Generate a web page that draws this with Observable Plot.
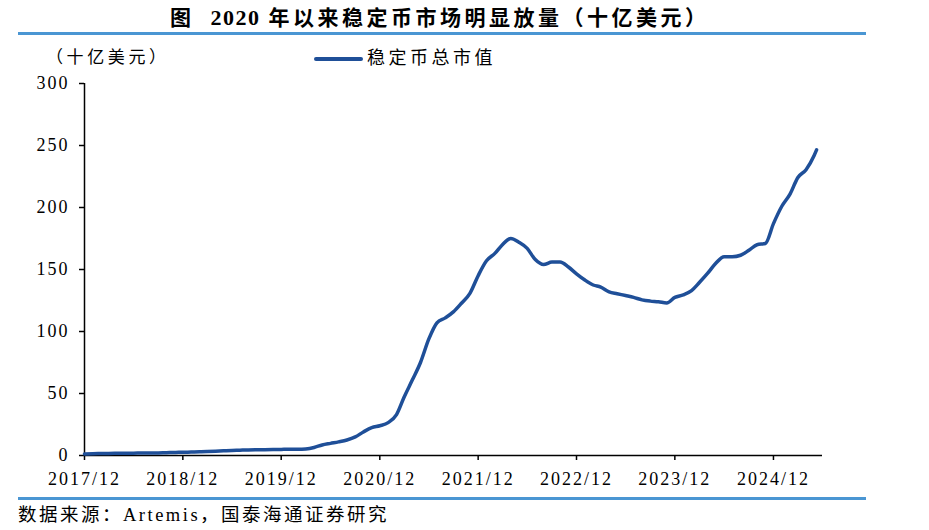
<!DOCTYPE html>
<html>
<head>
<meta charset="utf-8">
<script src="https://cdn.jsdelivr.net/npm/d3@7"></script>
<script src="https://cdn.jsdelivr.net/npm/@observablehq/plot@0.6"></script>
<style>
  html, body { margin: 0; padding: 0; background: #fff; }
  #page { position: relative; width: 929px; height: 530px; overflow: hidden; background: #fff;
          font-family: "Liberation Serif", "DejaVu Serif", "Noto Sans CJK SC", serif; color: #000; }
  .abs { position: absolute; white-space: nowrap; }
  #title { left: 170px; top: 7px; font-size: 21px; line-height: 22px; font-weight: bold; }
  #title .cjk { letter-spacing: 3.5px; }
  #title .num { letter-spacing: 1.5px; margin-left: 16px; margin-right: 8px; font-size: 22px; }
  .rule { position: absolute; left: 18px; width: 848px; height: 3px; background: #4a96d3; }
  #ylab { left: 46px; top: 49px; font-size: 17px; line-height: 18px; letter-spacing: 3.6px; }
  #legline { position: absolute; left: 314px; top: 57px; width: 49px; height: 4px; background: #1f4f98; border-radius: 2px; }
  #legtext { left: 367px; top: 49px; font-size: 18px; line-height: 19px; letter-spacing: 3.5px; }
  #source { left: 18px; top: 505px; font-size: 18.5px; line-height: 20px; letter-spacing: 2.5px; }
  #chart { position: absolute; left: 0; top: 70px; }
  #chart svg { letter-spacing: 2px; }
</style>
</head>
<body>
<div id="page">
  <div id="title" class="abs"><span class="cjk">图</span><span class="num">2020</span><span class="cjk">年以来稳定币市场明显放量（十亿美元）</span></div>
  <div class="rule" style="top:32px"></div>
  <div id="ylab" class="abs">（十亿美元）</div>
  <div id="legline"></div>
  <div id="legtext" class="abs">稳定币总市值</div>
  <div id="chart"></div>
  <div class="rule" style="top:497px"></div>
  <div id="source" class="abs">数据来源：Artemis，国泰海通证券研究</div>
</div>
<script>
const seriesName = "稳定币总市值";
const dates = [
  "2017-12-01",
  "2018-01-01","2018-02-01","2018-03-01","2018-04-01","2018-05-01","2018-06-01","2018-07-01","2018-08-01","2018-09-01","2018-10-01","2018-11-01","2018-12-01",
  "2019-01-01","2019-02-01","2019-03-01","2019-04-01","2019-05-01","2019-06-01","2019-07-01","2019-08-01","2019-09-01","2019-10-01","2019-11-01","2019-12-01",
  "2020-01-01","2020-02-01","2020-03-01","2020-04-01","2020-05-01","2020-06-01","2020-07-01","2020-08-01","2020-09-01","2020-10-01","2020-11-01","2020-12-01",
  "2021-01-01","2021-02-01","2021-03-01","2021-04-01","2021-05-01","2021-06-01","2021-07-01","2021-08-01","2021-09-01","2021-10-01","2021-11-01","2021-12-01",
  "2022-01-01","2022-02-01","2022-03-01","2022-04-01","2022-05-01","2022-06-01","2022-07-01","2022-08-01","2022-09-01","2022-10-01","2022-11-01","2022-12-01",
  "2023-01-01","2023-02-01","2023-03-01","2023-04-01","2023-05-01","2023-06-01","2023-07-01","2023-08-01","2023-09-01","2023-10-01","2023-11-01","2023-12-01",
  "2024-01-01","2024-02-01","2024-03-01","2024-04-01","2024-05-01","2024-06-01","2024-07-01","2024-08-01","2024-09-01","2024-10-01","2024-11-01","2024-12-01",
  "2025-01-01","2025-02-01","2025-03-01","2025-04-01","2025-05-01","2025-05-10"
];
const values = [
  1.3,
  1.5, 1.6, 1.7, 1.8, 1.9, 1.9, 2.0, 2.0, 2.1, 2.3, 2.5, 2.6,
  2.8, 3.0, 3.2, 3.5, 3.8, 4.1, 4.3, 4.5, 4.6, 4.7, 4.8, 4.9,
  5.0, 5.0, 5.3, 6.5, 8.5, 9.8, 11, 12.5, 15, 19, 22.5, 24,
  26.5, 33, 47, 61, 75, 94, 107, 111, 116, 123, 131, 145,
  157, 163, 170, 175, 172, 167, 158, 154, 156, 156, 152, 146.5,
  141.5, 137.5, 135.8, 132, 130.5, 129, 127.5, 125.5, 124.5, 124, 123, 127.5,
  129.5, 133, 139.5, 147, 155, 160.3, 160.3, 161.5, 165.5, 170, 171, 187,
  201, 211, 224, 230.5, 242, 246.5
];
const xTickDates = ["2017-12-01","2018-12-01","2019-12-01","2020-12-01","2021-12-01","2022-12-01","2023-12-01","2024-12-01"];
const xTickLabels = ["2017/12","2018/12","2019/12","2020/12","2021/12","2022/12","2023/12","2024/12"];
const yTicks = [0, 50, 100, 150, 200, 250, 300];
const xDomain = ["2017-12-01", "2025-06-01"];

const data = dates.map((d, i) => ({date: new Date(d), value: values[i]}));
const tickDates = xTickDates.map(d => new Date(d));
const xStart = new Date(xDomain[0]);

const chart = Plot.plot({
  width: 929,
  height: 425,
  marginLeft: 84,
  marginRight: 107,
  marginTop: 13,
  marginBottom: 40,
  x: {type: "utc", domain: xDomain.map(d => new Date(d))},
  y: {domain: [0, 300]},
  style: {fontFamily: '"Liberation Serif", "DejaVu Serif", serif', fontSize: "18px", color: "#000", background: "transparent", overflow: "visible"},
  marks: [
    Plot.axisX({ticks: tickDates, tickFormat: (d, i) => xTickLabels[i], tickSize: 5, tickPadding: 12, label: null, stroke: "#000", strokeWidth: 1.5}),
    Plot.axisY({ticks: yTicks, tickSize: 5, tickPadding: 10, label: null, stroke: "#000", strokeWidth: 1.5}),
    Plot.ruleY([0], {stroke: "#000", strokeWidth: 1.5}),
    Plot.ruleX([xStart], {y1: 0, y2: 300, stroke: "#000", strokeWidth: 1.5}),
    Plot.line(data, {x: "date", y: "value", stroke: "#1f4f98", strokeWidth: 3.5, curve: "monotone-x"})
  ]
});
document.getElementById("chart").appendChild(chart);
</script>
</body>
</html>
